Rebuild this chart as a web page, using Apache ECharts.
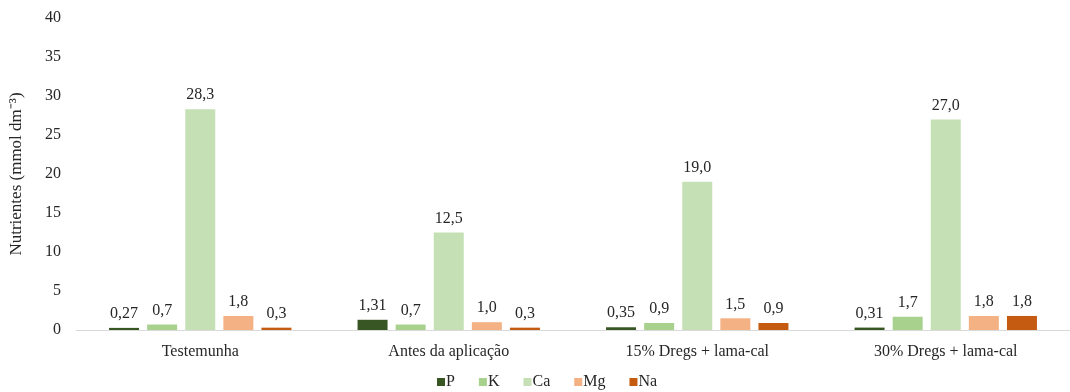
<!DOCTYPE html>
<html>
<head>
<meta charset="utf-8">
<script src="https://cdn.jsdelivr.net/npm/echarts@6/dist/echarts.min.js"></script>
<style>
  html, body { margin: 0; padding: 0; background: #fff; }
  #chart { width: 1070px; height: 392px; }
</style>
</head>
<body>
<div id="chart"></div>
<script>
// Treatments along the x axis
const categories = ['Testemunha', 'Antes da aplicação', '15% Dregs + lama-cal', '30% Dregs + lama-cal'];

// Nutrient contents (mmol dm-3) per treatment
const P  = [0.27, 1.31, 0.35, 0.31];
const K  = [0.7, 0.7, 0.9, 1.7];
const Ca = [28.3, 12.5, 19.0, 27.0];
const Mg = [1.8, 1.0, 1.5, 1.8];
const Na = [0.3, 0.3, 0.9, 1.8];

const yTicks = [0, 5, 10, 15, 20, 25, 30, 35, 40];

const font = '"Liberation Serif", "Times New Roman", serif';

function makeSeries(name, data, color, decimals) {
  return {
    name: name,
    type: 'bar',
    data: data,
    barWidth: 30,
    barGap: '27%',
    itemStyle: { color: color },
    label: {
      show: true,
      position: 'top',
      distance: 6,
      color: '#262626',
      fontFamily: font,
      fontSize: 16,
      formatter: p => p.value.toFixed(decimals).replace('.', ',')
    }
  };
}

const chart = echarts.init(document.getElementById('chart'), null, { renderer: 'canvas' });
chart.setOption({
  animation: false,
  backgroundColor: '#fff',
  textStyle: { fontFamily: font },
  grid: { left: 76, right: -8, top: 18, bottom: 62, containLabel: false },
  legend: {
    bottom: -3,
    left: 432,
    itemWidth: 8,
    itemHeight: 8,
    itemGap: 24,
    icon: 'rect',
    textStyle: { fontFamily: font, fontSize: 16, color: '#262626', padding: [0, 0, 0, -4] },
    data: ['P', 'K', 'Ca', 'Mg', 'Na']
  },
  xAxis: {
    type: 'category',
    data: categories,
    axisLine: { lineStyle: { color: '#d9d9d9', width: 1 } },
    axisTick: { show: false },
    axisLabel: { fontFamily: font, fontSize: 16, color: '#262626', margin: 14 }
  },
  yAxis: {
    type: 'value',
    min: yTicks[0],
    max: yTicks[yTicks.length - 1],
    interval: 5,
    splitLine: { show: false },
    axisLine: { show: false },
    axisTick: { show: false },
    axisLabel: { fontFamily: font, fontSize: 16, color: '#262626', margin: 15 },
    name: 'Nutrientes (mmol dm⁻³)',
    nameLocation: 'middle',
    nameGap: 51,
    nameTextStyle: { fontFamily: font, fontSize: 17, color: '#262626' }
  },
  series: [
    makeSeries('P', P, '#375623', 2),
    makeSeries('K', K, '#a9d18e', 1),
    makeSeries('Ca', Ca, '#c5e0b4', 1),
    makeSeries('Mg', Mg, '#f4b183', 1),
    makeSeries('Na', Na, '#c55a11', 1)
  ]
});
</script>
</body>
</html>
